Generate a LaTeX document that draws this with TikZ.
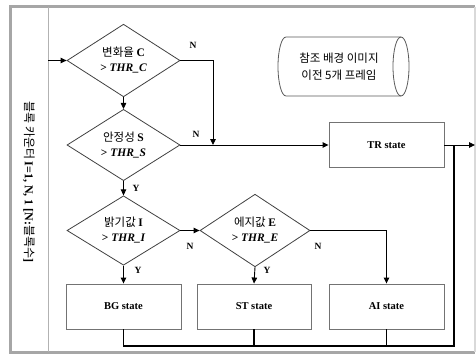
\documentclass[tikz,border=0pt]{standalone}
\usepackage{fontspec}
\setmainfont{Liberation Serif}
\newfontfamily\kr{Noto Sans CJK KR}
\usetikzlibrary{shapes.geometric,arrows.meta}

\newcommand{\lat}[1]{{\rmfamily\bfseries #1}}

\tikzset{
  decide/.style={diamond, draw=black!75, line width=0.8pt, minimum width=113pt,
    minimum height=65pt, inner sep=0pt, align=center,
    font=\fontsize{11.5}{15}\selectfont\kr},
  statebox/.style={rectangle, draw=black!55, line width=0.9pt, minimum width=115pt,
    minimum height=45pt, font=\fontsize{10.5}{12}\selectfont\bfseries},
  flow/.style={-{Triangle[length=6pt,width=5.5pt]}, line width=0.9pt},
  back/.style={line width=1.5pt},
  lbl/.style={font=\fontsize{9.5}{10}\selectfont\bfseries}
}

\begin{document}
\begin{tikzpicture}[x=1pt,y=-1pt]
  \useasboundingbox (0,0) rectangle (476,356);

% frame
\draw[gray!70, line width=3pt] (475,6.5) -- (10,6.5) -- (10,352) -- (475,352);
\draw[gray!30, line width=2pt] (475,6.5) -- (475,352);
\draw[gray!60, line width=1pt] (48,6.5) -- (48,352);
\node[rotate=-90, font=\fontsize{12}{14}\selectfont\kr] (cnt) at (29,182)
  {블록 카운터 \lat{I=1, N, 1 [N:}블록수\lat{]}};

% decisions
\node[decide] (chg) at (123.5,60.5) {변화율 \lat{C}\\\lat{> \itshape THR\_C}};
\node[decide] (stab) at (123.5,145) {안정성 \lat{S}\\\lat{> \itshape THR\_S}};
\node[decide] (lum) at (123.5,230.5) {밝기값 \lat{I}\\\lat{> \itshape THR\_I}};
\node[decide, minimum width=110pt] (edg) at (255,230.5) {에지값 \lat{E}\\\lat{> \itshape THR\_E}};

% states
\node[statebox] (tr) at (386.5,145) {TR state};
\node[statebox] (bg) at (123.5,306.5) {BG state};
\node[statebox, minimum width=114pt] (st) at (254,306.5) {ST state};
\node[statebox] (ai) at (386.5,306.5) {AI state};

% reference store
\draw[black!65, line width=0.8pt] (401,37) -- (286,37)
  arc[start angle=90, end angle=270, x radius=8pt, y radius=29.5pt] -- (401,96);
\draw[black!65, line width=0.8pt] (401,66.5) ellipse[x radius=8pt, y radius=29.5pt];
\node[align=center, font=\fontsize{11.5}{17}\selectfont\kr] (ref) at (339,66.5)
  {참조 배경 이미지\\이전 5개 프레임};

\coordinate (in) at (48,60.5);
\coordinate (join) at (213,145);
\coordinate (out) at (475,145);
\coordinate (loopR) at (454,346);

\draw[flow] (in) -- (chg.west);
\draw[flow] (chg.south) -- (stab.north);
\draw[flow] (chg.east) -| (join);
\draw[flow] (stab.east) -- (tr.west);
\draw[flow] (stab.south) -- (lum.north);
\draw[flow] (lum.south) -- (bg.north);
\draw[flow] (lum.east) -- (edg.west);
\draw[flow] (edg.south) -- (st.north);
\draw[flow] (edg.east) -| (ai.north);
\draw[flow] (tr.east) -- (out);

\draw[back] (bg.south) |- (loopR) -- (loopR |- tr.east);
\draw[back] (st.south) -- (st.south |- loopR);
\draw[back] (ai.south) -- (ai.south |- loopR);

% labels
\node[lbl] (n1) at (193,45) {N};
\node[lbl] (n2) at (196,134) {N};
\node[lbl] (y1) at (136,188) {Y};
\node[lbl] (y2) at (138,270) {Y};
\node[lbl] (n3) at (190,246) {N};
\node[lbl] (n4) at (318,246) {N};
\node[lbl] (y3) at (267,270) {Y};
\end{tikzpicture}
\end{document}
